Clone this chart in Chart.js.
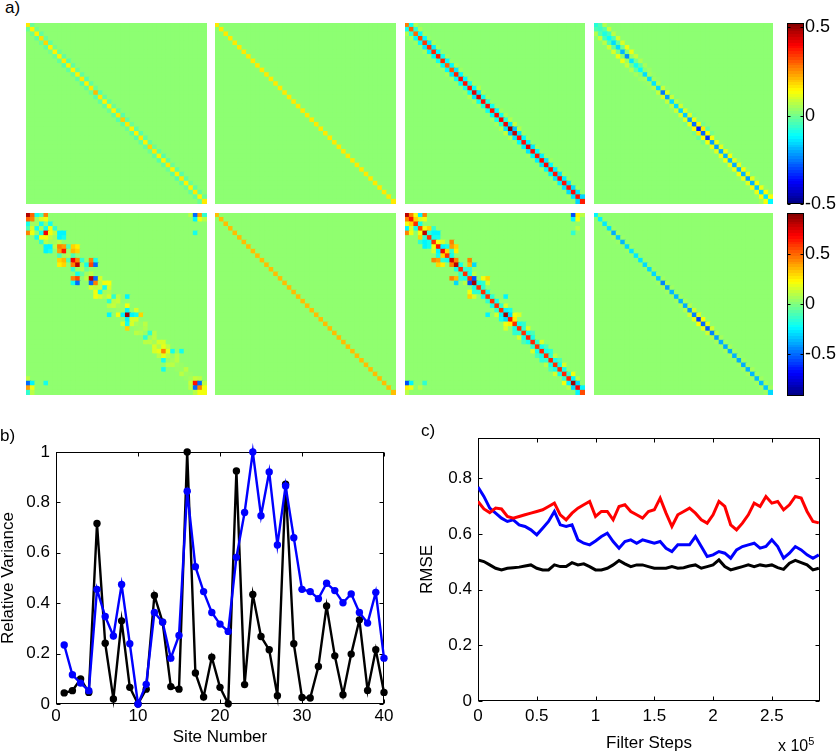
<!DOCTYPE html>
<html>
<head>
<meta charset="utf-8">
<script src="https://cdn.jsdelivr.net/npm/chart.js@4.4.1/dist/chart.umd.min.js"></script>
<style>
  html, body { margin: 0; padding: 0; background: #fff; }
  #fig { position: relative; width: 836px; height: 754px; overflow: hidden; font-family: "Liberation Sans", Arial, sans-serif; color: #000; }
  #fig canvas { position: absolute; }
  .tag { position: absolute; font-size: 17px; line-height: 17px; white-space: nowrap; }
</style>
</head>
<body>
<div id="fig">
  <canvas id="h1" width="181" height="181" style="left:26px;top:23px"></canvas>
  <canvas id="h2" width="181" height="181" style="left:215px;top:23px"></canvas>
  <canvas id="h3" width="180" height="181" style="left:405px;top:23px"></canvas>
  <canvas id="h4" width="179" height="181" style="left:594px;top:23px"></canvas>
  <canvas id="h5" width="181" height="182" style="left:26px;top:213px"></canvas>
  <canvas id="h6" width="181" height="182" style="left:215px;top:213px"></canvas>
  <canvas id="h7" width="180" height="182" style="left:405px;top:213px"></canvas>
  <canvas id="h8" width="179" height="182" style="left:594px;top:213px"></canvas>
  <canvas id="cb1" width="49" height="205" style="left:787px;top:11px"></canvas>
  <canvas id="cb2" width="49" height="207" style="left:787px;top:201px"></canvas>
  <canvas id="chartB" width="400" height="334" style="left:0px;top:420px"></canvas>
  <canvas id="chartC" width="426" height="334" style="left:410px;top:420px"></canvas>
  <div class="tag" style="left:5px;top:-1px">a)</div>
  <div class="tag" style="left:0px;top:427px">b)</div>
  <div class="tag" style="left:421px;top:422px">c)</div>
  <div class="tag" style="left:778px;top:733px;font-size:16px">x 10<sup style="font-size:11px;vertical-align:6px">5</sup></div>
</div>
<script>
/* global Chart */

// ---- panel b: relative variance per site ----
const siteNumbers = [1, 2, 3, 4, 5, 6, 7, 8, 9, 10, 11, 12, 13, 14, 15, 16, 17, 18, 19, 20,
  21, 22, 23, 24, 25, 26, 27, 28, 29, 30, 31, 32, 33, 34, 35, 36, 37, 38, 39, 40];
const varBlack = [0.044, 0.053, 0.099, 0.046, 0.716, 0.241, 0.020, 0.330, 0.066, 0.000,
  0.059, 0.431, 0.325, 0.069, 0.059, 1.000, 0.123, 0.028, 0.186, 0.066,
  0.001, 0.925, 0.077, 0.435, 0.268, 0.215, 0.033, 0.872, 0.239, 0.026,
  0.024, 0.149, 0.389, 0.191, 0.037, 0.198, 0.334, 0.054, 0.215, 0.046];
const varBlue = [0.234, 0.116, 0.083, 0.053, 0.455, 0.347, 0.270, 0.474, 0.239, 0.000,
  0.078, 0.363, 0.325, 0.182, 0.272, 0.844, 0.545, 0.446, 0.363, 0.317,
  0.288, 0.582, 0.760, 1.000, 0.747, 0.921, 0.631, 0.865, 0.660, 0.455,
  0.446, 0.418, 0.479, 0.450, 0.402, 0.437, 0.363, 0.321, 0.443, 0.182];
const siteTicks = [0, 10, 20, 30, 40];
const varTicks = [0, 0.2, 0.4, 0.6, 0.8, 1];

// ---- panel c: RMSE vs filter steps ----
const filterSteps = [0, 5000, 10000, 15000, 20000, 25000, 30000, 35000, 40000, 45000,
  50000, 55000, 60000, 65000, 70000, 75000, 80000, 85000, 90000, 95000,
  100000, 105000, 110000, 115000, 120000, 125000, 130000, 135000, 140000, 145000,
  150000, 155000, 160000, 165000, 170000, 175000, 180000, 185000, 190000, 195000,
  200000, 205000, 210000, 215000, 220000, 225000, 230000, 235000, 240000, 245000,
  250000, 255000, 260000, 265000, 270000, 275000, 280000, 285000, 290000];
const rmseRed = [0.717, 0.690, 0.677, 0.693, 0.690, 0.663, 0.657, 0.663, 0.669, 0.675,
  0.681, 0.687, 0.699, 0.711, 0.669, 0.651, 0.675, 0.693, 0.705, 0.717,
  0.663, 0.681, 0.681, 0.651, 0.699, 0.705, 0.681, 0.669, 0.657, 0.681,
  0.687, 0.729, 0.675, 0.627, 0.669, 0.681, 0.693, 0.675, 0.651, 0.639,
  0.669, 0.717, 0.699, 0.633, 0.615, 0.639, 0.669, 0.711, 0.699, 0.735,
  0.711, 0.717, 0.687, 0.705, 0.735, 0.729, 0.681, 0.645, 0.640];
const rmseBlue = [0.769, 0.735, 0.693, 0.675, 0.657, 0.645, 0.651, 0.633, 0.627, 0.615,
  0.597, 0.621, 0.645, 0.681, 0.633, 0.627, 0.633, 0.579, 0.567, 0.561,
  0.575, 0.591, 0.603, 0.573, 0.549, 0.573, 0.579, 0.567, 0.579, 0.573,
  0.567, 0.573, 0.549, 0.537, 0.561, 0.561, 0.561, 0.591, 0.555, 0.519,
  0.525, 0.537, 0.531, 0.513, 0.543, 0.555, 0.561, 0.567, 0.549, 0.555,
  0.579, 0.555, 0.513, 0.531, 0.555, 0.543, 0.525, 0.513, 0.525];
const rmseBlack = [0.507, 0.501, 0.489, 0.477, 0.471, 0.477, 0.479, 0.481, 0.485, 0.489,
  0.477, 0.471, 0.471, 0.489, 0.483, 0.483, 0.497, 0.489, 0.493, 0.483,
  0.471, 0.471, 0.477, 0.489, 0.505, 0.493, 0.483, 0.489, 0.489, 0.483,
  0.477, 0.477, 0.477, 0.483, 0.477, 0.479, 0.485, 0.489, 0.477, 0.483,
  0.489, 0.507, 0.483, 0.471, 0.477, 0.483, 0.489, 0.483, 0.489, 0.485,
  0.489, 0.479, 0.473, 0.495, 0.505, 0.497, 0.489, 0.471, 0.477];
const stepTicks = [0, 50000, 100000, 150000, 200000, 250000];
const rmseTicks = [0, 0.2, 0.4, 0.6, 0.8];

// ---- panel a: 40x40 matrices (diagonal, first/second off-diagonals, sparse extra cells) ----
const baseLevel = 0.025;
const topRange = [-0.5, 0.523];
const bottomRange = [-0.92, 0.91];
const cbTicks = [-0.5, 0, 0.5];

const h1Diag = [0.16, 0.15, 0.15, 0.17, 0.18, 0.15, 0.15, 0.15, 0.16, 0.15,
  0.15, 0.15, 0.16, 0.15, 0.16, 0.21, 0.16, 0.15, 0.15, 0.15,
  0.16, 0.19, 0.16, 0.15, 0.15, 0.16, 0.15, 0.18, 0.16, 0.15,
  0.15, 0.16, 0.15, 0.15, 0.16, 0.15, 0.15, 0.16, 0.15, 0.16];
const h1Off1 = [-0.01, 0, -0.02, -0.01, -0.02, 0, -0.01, -0.02, -0.03, -0.02,
  -0.01, -0.02, -0.03, -0.02, -0.01, -0.03, -0.02, -0.02, -0.01, -0.02,
  -0.03, -0.02, -0.01, -0.02, -0.03, -0.02, -0.02, -0.01, -0.02, -0.03,
  -0.02, -0.01, -0.02, -0.03, -0.02, -0.01, -0.02, -0.02, -0.01];

const h2Diag = [0.16, 0.16, 0.16, 0.16, 0.16, 0.16, 0.16, 0.16, 0.16, 0.16,
  0.16, 0.16, 0.16, 0.16, 0.16, 0.16, 0.16, 0.16, 0.16, 0.16,
  0.16, 0.16, 0.16, 0.16, 0.16, 0.16, 0.16, 0.16, 0.16, 0.16,
  0.16, 0.16, 0.16, 0.16, 0.16, 0.16, 0.16, 0.16, 0.16, 0.16];

const h3Diag = [0.27, 0.30, 0.29, 0.32, 0.34, 0.35, 0.36, 0.37, 0.36, 0.30,
  0.31, 0.36, 0.38, 0.38, 0.38, 0.43, 0.43, 0.39, 0.39, 0.38,
  0.39, 0.40, 0.41, 0.50, 0.46, 0.39, 0.39, 0.42, 0.39, 0.38,
  0.39, 0.39, 0.38, 0.38, 0.39, 0.38, 0.38, 0.39, 0.38, 0.37];
const h3Off1 = [-0.10, -0.08, -0.12, -0.12, -0.14, -0.13, -0.12, -0.10, -0.12, -0.12,
  -0.14, -0.12, -0.12, -0.10, -0.11, -0.14, -0.10, -0.08, -0.10, -0.12,
  -0.10, -0.08, -0.14, -0.18, -0.14, -0.12, -0.13, -0.14, -0.12, -0.13,
  -0.14, -0.12, -0.13, -0.14, -0.13, -0.14, -0.15, -0.14, -0.16];
const h3Off2 = [0.06, 0.05, 0.04, 0.03, 0.05, 0.04, 0.03, 0.04, 0.03, 0.05,
  0.04, 0.03, 0.03, 0.04, 0.06, 0.05, 0.04, 0.03, 0.03, 0.04,
  0.05, 0.06, 0.08, 0.06, 0.04, 0.03, 0.03, 0.04, 0.03, 0.03,
  0.04, 0.03, 0.03, 0.04, 0.03, 0.03, 0.04, 0.03];

const h4Diag = [-0.08, -0.06, -0.09, -0.11, -0.15, -0.15, -0.19, -0.23, -0.14, -0.10,
  -0.12, -0.15, -0.15, -0.14, -0.15, -0.25, -0.21, -0.15, -0.15, -0.16,
  -0.17, -0.21, -0.26, -0.34, -0.27, -0.32, -0.21, -0.21, -0.20, -0.19,
  -0.19, -0.20, -0.19, -0.19, -0.21, -0.19, -0.17, -0.16, -0.14, -0.12];
const h4Off1 = [-0.04, -0.03, -0.05, -0.04, -0.02, 0.00, 0.02, 0.04, 0.00, -0.02,
  0.02, 0.05, 0.04, 0.06, 0.08, 0.10, 0.08, 0.07, 0.09, 0.10,
  0.11, 0.12, 0.14, 0.16, 0.14, 0.13, 0.12, 0.11, 0.12, 0.13,
  0.11, 0.12, 0.13, 0.12, 0.11, 0.13, 0.12, 0.14, 0.13];
const h4Off2 = [0.06, 0.08, 0.07, 0.09, 0.10, 0.12, 0.12, 0.08, 0.06, 0.05,
  0.04, 0.03, 0.03, 0.02, 0.03, 0.02, 0.02, 0.03, 0.02, 0.02,
  0.01, 0.02, 0.00, -0.02, 0.00, 0.02, 0.03, 0.02, 0.03, 0.02,
  0.03, 0.02, 0.03, 0.02, 0.03, 0.02, 0.03, 0.04];

const h5Diag = [0.82, 0.45, 0.05, 0.06, 0.70, 0.10, 0.06, 0.45, 0.65, 0.08,
  0.70, 0.80, 0.08, 0.06, 0.80, 0.45, 0.12, 0.06, 0.15, 0.10,
  0.06, 0.04, 0.85, 0.15, 0.06, 0.05, 0.04, 0.05, 0.06, 0.08,
  0.45, 0.10, 0.06, 0.05, 0.04, 0.05, 0.06, 0.65, 0.45, 0.20];
const h5Off1 = [0.50, 0.05, -0.20, -0.20, 0.20, 0.05, 0.10, 0.40, 0.05, -0.10,
  0.45, 0.05, -0.05, 0.10, -0.50, 0.10, -0.20, 0.08, -0.15, 0.12,
  0.04, -0.25, -0.25, 0.15, 0.04, 0.08, -0.15, 0.10, 0.15, 0.18,
  0.18, 0.04, 0.10, 0.04, 0.10, 0.04, 0.12, -0.50, 0.20];
const h5Cells = [
  [4, 0, 0.45], [4, 1, 0.2], [2, 0, -0.2], [3, 0, -0.1], [3, 1, 0.15], [5, 3, 0.2], [6, 4, 0.1],
  [7, 4, -0.25], [7, 5, -0.25], [8, 4, -0.25], [8, 5, -0.2], [5, 2, -0.2], [6, 3, -0.15],
  [10, 7, 0.3], [10, 8, 0.35], [11, 7, 0.25], [11, 8, 0.3], [9, 7, -0.1], [12, 10, -0.15], [13, 11, -0.2],
  [14, 10, 0.45], [14, 11, 0.55], [15, 10, -0.2], [15, 11, -0.5], [16, 14, 0.15], [17, 15, 0.2],
  [18, 15, 0.2], [18, 16, 0.15], [20, 18, 0.1],
  [22, 18, -0.25], [22, 20, 0.2], [24, 22, -0.2], [25, 22, 0.3], [24, 21, 0.15], [26, 24, 0.1],
  [28, 26, 0.1], [30, 28, 0.15], [32, 30, -0.2], [34, 30, -0.2], [31, 29, 0.1], [33, 31, 0.1],
  [37, 0, -0.5], [37, 1, -0.25], [38, 0, 0.4], [38, 1, 0.2], [39, 0, -0.15], [39, 1, 0.1],
  [37, 4, -0.2], [36, 0, 0.1], [39, 37, 0.1], [36, 38, 0.1],
];

const h6Diag = [0.34, 0.34, 0.34, 0.34, 0.34, 0.34, 0.34, 0.34, 0.34, 0.34,
  0.34, 0.34, 0.34, 0.34, 0.34, 0.34, 0.34, 0.34, 0.34, 0.34,
  0.34, 0.34, 0.34, 0.34, 0.34, 0.34, 0.34, 0.34, 0.34, 0.34,
  0.34, 0.34, 0.34, 0.34, 0.34, 0.34, 0.34, 0.34, 0.34, 0.34];

const h7Diag = [0.80, 0.65, 0.60, 0.55, 0.80, 0.60, 0.60, 0.65, 0.70, 0.60,
  0.75, 0.80, 0.60, 0.60, 0.60, 0.85, 0.60, 0.60, 0.60, 0.60,
  0.60, 0.60, 0.85, 0.65, 0.60, 0.60, 0.60, 0.62, 0.62, 0.60,
  0.62, 0.60, 0.62, 0.60, 0.60, 0.62, 0.62, 0.85, 0.70, 0.55];
const h7Off1 = [0.45, 0.30, -0.20, 0.20, -0.15, -0.20, 0.20, -0.25, 0.30, -0.20,
  0.45, -0.20, -0.15, -0.20, -0.55, -0.20, -0.15, -0.20, -0.15, -0.20,
  -0.15, -0.25, -0.30, 0.25, -0.20, -0.15, -0.20, -0.20, -0.15, -0.20,
  -0.20, -0.15, -0.20, -0.20, -0.20, -0.15, -0.25, -0.30, -0.25];
const h7Cells = [
  [0, 3, -0.25], [0, 4, 0.45], [1, 4, 0.2], [1, 3, 0.15], [0, 2, 0.2],
  [3, 5, 0.3], [4, 6, -0.25], [4, 7, -0.25], [5, 7, -0.2], [6, 8, 0.15], [3, 6, -0.15],
  [6, 10, 0.45], [7, 10, 0.4], [7, 11, 0.3], [8, 11, 0.25], [7, 9, -0.2], [8, 10, -0.15],
  [10, 14, 0.45], [11, 14, 0.35], [11, 15, -0.3], [12, 14, -0.15], [14, 17, 0.2], [14, 18, 0.3],
  [15, 18, 0.15], [15, 17, -0.15], [13, 15, 0.1],
  [18, 22, -0.25], [20, 22, 0.15], [21, 23, -0.2], [22, 24, 0.2], [22, 25, 0.15], [24, 26, -0.15],
  [25, 27, 0.15], [26, 28, -0.1], [28, 30, 0.15], [29, 31, -0.1], [30, 32, -0.15], [31, 33, 0.1],
  [32, 34, -0.1], [33, 35, 0.15],
  [0, 37, -0.55], [1, 37, -0.25], [0, 38, 0.25], [1, 38, 0.2], [0, 39, 0.1], [3, 38, 0.1], [4, 37, -0.15],
  [35, 37, 0.2], [36, 38, 0.1],
];

const h8Diag = [-0.25, -0.25, -0.27, -0.28, -0.38, -0.33, -0.36, -0.30, -0.28, -0.27,
  -0.28, -0.30, -0.30, -0.30, -0.32, -0.45, -0.40, -0.36, -0.36, -0.37,
  -0.38, -0.42, -0.46, -0.58, -0.50, -0.52, -0.45, -0.40, -0.38, -0.38,
  -0.38, -0.37, -0.38, -0.38, -0.37, -0.36, -0.35, -0.35, -0.33, -0.30];
const h8Off1 = [0.02, 0.03, 0.02, 0.04, 0.05, 0.04, 0.03, 0.04, 0.03, 0.02,
  0.03, 0.03, 0.04, 0.04, 0.05, 0.06, 0.05, 0.04, 0.05, 0.06,
  0.09, 0.14, 0.18, 0.22, 0.18, 0.14, 0.09, 0.06, 0.05, 0.06,
  0.05, 0.04, 0.05, 0.05, 0.06, 0.05, 0.05, 0.06, 0.05];

const FONT = "'Liberation Sans', Arial, Helvetica, sans-serif";
const tickFont = { family: FONT, size: 17 };
const titleFont = { family: FONT, size: 17, lineHeight: 1 };

function jet(t) {
  t = Math.min(1, Math.max(0, t));
  const f = (d) => Math.round(255 * Math.min(1, Math.max(0, 1.5 - Math.abs(4 * t - d))));
  return `rgb(${f(3)},${f(2)},${f(1)})`;
}

function buildMatrix(diag, off1, off2, cells) {
  const n = diag.length;
  const m = [];
  for (let r = 0; r < n; r++) m.push(new Array(n).fill(baseLevel));
  diag.forEach((v, i) => { m[i][i] = v; });
  (off1 || []).forEach((v, i) => { m[i][i + 1] = v; m[i + 1][i] = v; });
  (off2 || []).forEach((v, i) => { m[i][i + 2] = v; m[i + 2][i] = v; });
  (cells || []).forEach(([r, c, v]) => { m[r][c] = v; m[c][r] = v; });
  return m;
}

/* box + inward ticks, MATLAB style */
function drawFrame(chart, o) {
  const { ctx, chartArea: a, scales } = chart;
  const len = o.len || 4;
  const L = Math.round(a.left) + 0.5, R = Math.round(a.right) - 0.5;
  const T = Math.round(a.top) + 0.5, B = Math.round(a.bottom) - 0.5;
  ctx.save();
  ctx.strokeStyle = "#000";
  ctx.lineWidth = 1;
  ctx.beginPath();
  if (o.x !== false) {
    scales.x.ticks.forEach((t) => {
      const p = Math.round(scales.x.getPixelForValue(t.value)) + 0.5;
      ctx.moveTo(p, B); ctx.lineTo(p, B - len);
      ctx.moveTo(p, T); ctx.lineTo(p, T + len);
    });
  }
  scales.y.ticks.forEach((t) => {
    const p = Math.round(scales.y.getPixelForValue(t.value)) + 0.5;
    ctx.moveTo(L, p); ctx.lineTo(L + len, p);
    ctx.moveTo(R, p); ctx.lineTo(R - len, p);
  });
  ctx.stroke();
  ctx.strokeRect(L, T, R - L, B - T);
  ctx.restore();
}
const frame = {
  id: "frame",
  beforeDatasetsDraw(chart, args, o) { if (!o.over) drawFrame(chart, o); },
  afterDatasetsDraw(chart, args, o) { if (o.over) drawFrame(chart, o); },
};

const quiet = { legend: { display: false }, tooltip: { enabled: false } };

function heatmap(id, m, range) {
  const rows = m.map((_, r) => r).reverse(); // first dataset = bottom row
  return new Chart(document.getElementById(id), {
    type: "bar",
    data: {
      labels: m.map((_, c) => c + 1),
      datasets: rows.map((r) => ({
        data: m[r].map(() => 1),
        backgroundColor: m[r].map((v) => jet((v - range[0]) / (range[1] - range[0]))),
        borderWidth: 0,
        inflateAmount: 0.6,
        barPercentage: 1,
        categoryPercentage: 1,
      })),
    },
    options: {
      responsive: false, animation: false, events: [],
      layout: { padding: 0 },
      plugins: quiet,
      scales: {
        x: { display: false, stacked: true },
        y: { display: false, stacked: true, min: 0, max: m.length },
      },
    },
  });
}

function colorbar(id, range) {
  return new Chart(document.getElementById(id), {
    type: "bar",
    data: {
      labels: [""],
      datasets: [{
        data: [range],
        borderWidth: 0,
        barPercentage: 1,
        categoryPercentage: 1,
        backgroundColor: (ctx) => {
          const a = ctx.chart.chartArea;
          if (!a) return "#80ff80";
          const g = ctx.chart.ctx.createLinearGradient(0, a.bottom, 0, a.top);
          for (let k = 0; k < 64; k++) {
            const c = jet((k + 0.5) / 64);
            g.addColorStop(k / 64, c);
            g.addColorStop((k + 1) / 64, c);
          }
          return g;
        },
      }],
    },
    options: {
      responsive: false, animation: false, events: [],
      layout: { padding: { top: 12, bottom: 12, left: 0, right: 0 } },
      plugins: { ...quiet, frame: { x: false, len: 3, over: true } },
      scales: {
        x: { display: false },
        y: {
          position: "right", min: range[0], max: range[1],
          afterFit: (s) => { s.width = 32; },
          afterBuildTicks: (s) => { s.ticks = cbTicks.map((v) => ({ value: v })); },
          grid: { display: false, drawTicks: false },
          border: { display: false },
          ticks: { color: "#000", font: { family: FONT, size: 18 }, padding: 1, callback: (v) => String(v) },
        },
      },
    },
    plugins: [frame],
  });
}

heatmap("h1", buildMatrix(h1Diag, h1Off1), topRange);
heatmap("h2", buildMatrix(h2Diag), topRange);
heatmap("h3", buildMatrix(h3Diag, h3Off1, h3Off2), topRange);
heatmap("h4", buildMatrix(h4Diag, h4Off1, h4Off2), topRange);
heatmap("h5", buildMatrix(h5Diag, h5Off1, null, h5Cells), bottomRange);
heatmap("h6", buildMatrix(h6Diag), bottomRange);
heatmap("h7", buildMatrix(h7Diag, h7Off1, null, h7Cells), bottomRange);
heatmap("h8", buildMatrix(h8Diag, h8Off1), bottomRange);
colorbar("cb1", topRange);
colorbar("cb2", bottomRange);

function axisOpts(o) {
  return {
    type: "linear", min: o.min, max: o.max,
    afterFit: o.fit,
    afterBuildTicks: (s) => { s.ticks = o.ticks.map((v) => ({ value: v })); },
    grid: { display: false, drawTicks: false },
    border: { display: false },
    ticks: { color: "#000", font: tickFont, padding: o.pad, autoSkip: false, maxRotation: 0, callback: o.fmt || ((v) => String(v)) },
    title: { display: true, text: o.title, color: "#000", font: titleFont, padding: o.titlePad },
  };
}

new Chart(document.getElementById("chartB"), {
  type: "line",
  data: {
    datasets: [
      { data: siteNumbers.map((s, i) => ({ x: s, y: varBlue[i] })), borderColor: "#0000ff", backgroundColor: "#0000ff",
        borderWidth: 2.4, pointRadius: 3.7, pointBorderWidth: 0, clip: false },
      { data: siteNumbers.map((s, i) => ({ x: s, y: varBlack[i] })), borderColor: "#000", backgroundColor: "#000",
        borderWidth: 2.4, pointRadius: 3.7, pointBorderWidth: 0, clip: false },
    ],
  },
  options: {
    responsive: false, animation: false, events: [],
    layout: { padding: { top: 32, right: 16, left: 0, bottom: 0 } },
    plugins: { ...quiet, frame: { len: 4 } },
    scales: {
      x: axisOpts({ min: 0, max: 40, ticks: siteTicks, pad: 2, title: "Site Number",
        titlePad: { top: 0, bottom: 8 }, fit: (s) => { s.height = 50; } }),
      y: axisOpts({ min: 0, max: 1, ticks: varTicks, pad: 6, title: "Relative Variance",
        titlePad: { top: 0, bottom: 0 }, fit: (s) => { s.width = 56; } }),
    },
  },
  plugins: [frame],
});

new Chart(document.getElementById("chartC"), {
  type: "line",
  data: {
    datasets: [
      { data: filterSteps.map((s, i) => ({ x: s, y: rmseRed[i] })), borderColor: "#ff0000", borderWidth: 3, pointRadius: 0 },
      { data: filterSteps.map((s, i) => ({ x: s, y: rmseBlue[i] })), borderColor: "#0000ff", borderWidth: 3, pointRadius: 0 },
      { data: filterSteps.map((s, i) => ({ x: s, y: rmseBlack[i] })), borderColor: "#000", borderWidth: 3, pointRadius: 0 },
    ],
  },
  options: {
    responsive: false, animation: false, events: [],
    layout: { padding: { top: 18, right: 16, left: 0, bottom: 0 } },
    plugins: { ...quiet, frame: { len: 4 } },
    scales: {
      x: axisOpts({ min: 0, max: 291000, ticks: stepTicks, pad: 5, title: "Filter Steps",
        titlePad: { top: 0, bottom: 2 }, fit: (s) => { s.height = 53; }, fmt: (v) => String(v / 1e5) }),
      y: axisOpts({ min: 0, max: 0.945, ticks: rmseTicks, pad: 6, title: "RMSE",
        titlePad: { top: 9, bottom: 0 }, fit: (s) => { s.width = 68; } }),
    },
  },
  plugins: [frame],
});
</script>
</body>
</html>
